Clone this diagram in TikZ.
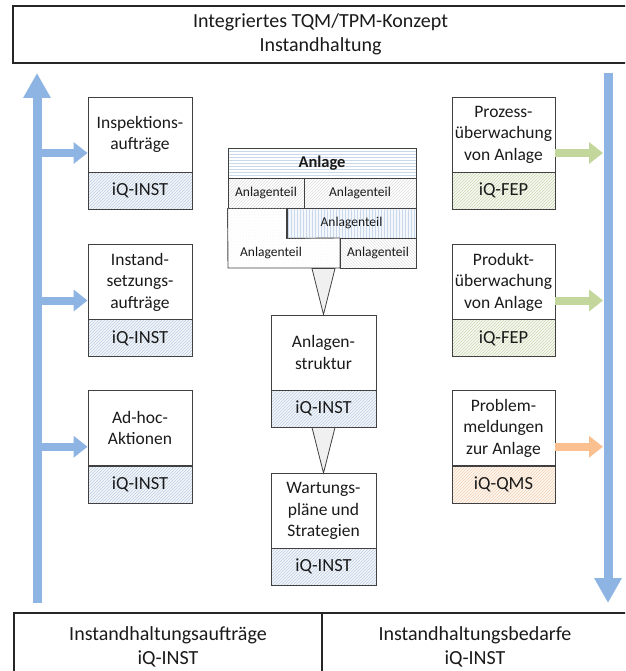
\documentclass[tikz,border=0pt]{standalone}
\usepackage{fontspec}
\setmainfont{Carlito}
\usetikzlibrary{patterns,arrows.meta,calc}
\definecolor{arrblue}{HTML}{8EB4E3}
\definecolor{arrgreen}{HTML}{C3D69B}
\definecolor{arrorange}{HTML}{FAC08F}
\definecolor{bordergray}{HTML}{404040}
\definecolor{txt}{HTML}{1A1A1A}
\definecolor{hbluebg}{HTML}{F4F7FB}
\definecolor{hblue}{HTML}{BCCDE2}
\definecolor{hgreenbg}{HTML}{F7F9F1}
\definecolor{hgreen}{HTML}{CCD7B4}
\definecolor{horangebg}{HTML}{FEF6EF}
\definecolor{horange}{HTML}{F2D3B8}
\definecolor{hlineblue}{HTML}{C9D8EA}
\definecolor{tri}{HTML}{F0F0F0}
\newcommand\ftitle{\fontsize{20}{24}\selectfont}
\newcommand\fboxtxt{\fontsize{17.5}{21.5}\selectfont}
\newcommand\fiq{\fontsize{18.5}{21}\selectfont}
\newcommand\fpart{\fontsize{13.5}{16}\selectfont}
\tikzset{
  box/.style={draw=bordergray, line width=0.9pt, align=center, inner sep=0pt, text=txt},
  upper/.style={box, fill=white, minimum width=#1, minimum height=75pt, font=\fboxtxt},
  lower/.style={box, minimum width=#1, minimum height=37pt, font=\fiq},
  lowblue/.style={lower=#1, preaction={fill=hbluebg}, pattern=north east lines, pattern color=hblue},
  lowgreen/.style={lower=#1, preaction={fill=hgreenbg}, pattern=north east lines, pattern color=hgreen},
  loworange/.style={lower=#1, preaction={fill=horangebg}, pattern=north east lines, pattern color=horange},
  framebox/.style={draw=black!85, line width=1.4pt, align=center, inner sep=0pt, text=txt, font=\ftitle, fill=white},
  cell/.style={box, minimum height=30pt, font=\fpart},
  bigarrow/.style={draw=arrblue, line width=9pt, -{Triangle[width=26pt,length=25pt]}},
  smallarrow/.style={line width=8pt, -{Triangle[width=21pt,length=14pt]}},
  funnel/.style={draw=bordergray, line width=0.8pt, fill=tri},
}
\begin{document}
\begin{tikzpicture}[x=1pt,y=-1pt]
\useasboundingbox (0,0) rectangle (625,671);
\clip (0,0) rectangle (625,671);
\fill[white] (0,0) rectangle (625,671);

% top and bottom frames
\node[framebox, minimum width=615pt, minimum height=57pt] (top) at (320.5,34.5) {Integriertes TQM/TPM-Konzept\\Instandhaltung};
\node[framebox, minimum width=308pt, minimum height=67pt] (bl) at (168,646.5) {Instandhaltungsaufträge\\iQ-INST};
\node[framebox, minimum width=306pt, minimum height=67pt] (br) at (475,646.5) {Instandhaltungsbedarfe\\iQ-INST};

% left boxes
\node[upper=104pt] (iu1) at (140,134.5) {Inspektions-\\aufträge};
\node[lowblue=104pt] (il1) at (140,190.5) {iQ-INST};
\node[upper=104pt] (iu2) at (140,282) {Instand-\\setzungs-\\aufträge};
\node[lowblue=104pt] (il2) at (140,338) {iQ-INST};
\node[upper=104pt] (iu3) at (140,428) {Ad-hoc-\\Aktionen};
\node[lowblue=104pt] (il3) at (140,484.5) {iQ-INST};

% right boxes
\node[upper=103pt] (pu1) at (503.5,134.5) {Prozess-\\überwachung\\von Anlage};
\node[lowgreen=103pt] (pl1) at (503.5,190.5) {iQ-FEP};
\node[upper=103pt] (pu2) at (503.5,282) {Produkt-\\überwachung\\von Anlage};
\node[lowgreen=103pt] (pl2) at (503.5,338) {iQ-FEP};
\node[upper=103pt] (pu3) at (503.5,428) {Problem-\\meldungen\\zur Anlage};
\node[loworange=103pt] (pl3) at (503.5,484.5) {iQ-QMS};

% Anlage block
\node[cell, minimum width=188pt, preaction={fill=white}, pattern=horizontal lines, pattern color=hlineblue, font=\fontsize{16.5}{18}\selectfont\bfseries] (an) at (322,163) {Anlage};
\node[cell, minimum width=76pt, preaction={fill=white}, pattern=north east lines, pattern color=gray!25] (c1) at (266,193) {Anlagenteil};
\node[cell, minimum width=112pt, preaction={fill=white}, pattern=north east lines, pattern color=gray!25] (c2) at (360,193) {Anlagenteil};
\node[cell, minimum width=129pt, preaction={fill=hbluebg}, pattern=vertical lines, pattern color=hlineblue] (c3) at (351.5,223) {Anlagenteil};
\filldraw[draw=bordergray, line width=0.9pt, fill=white] (c1.south west) -- (c3.south west |- c1.south) -- (c3.south west) -- (340,238) -- (340,268) -- (228,268) -- cycle;
\path[pattern=dots, pattern color=gray!12] (c1.south west) -- (c3.south west |- c1.south) -- (c3.south west) -- (340,238) -- (340,268) -- (228,268) -- cycle;
\node[font=\fpart, text=txt, inner sep=0pt] (c4) at (271,253) {Anlagenteil};
\node[cell, minimum width=76pt, preaction={fill=white}, pattern=north west lines, pattern color=gray!22] (c5) at (378,253) {Anlagenteil};

% center boxes
\node[upper=105pt] (au) at (323.5,352.5) {Anlagen-\\struktur};
\node[lowblue=105pt] (al) at (323.5,408.5) {iQ-INST};
\node[upper=105pt] (wu) at (323.5,511) {Wartungs-\\pläne und\\Strategien};
\node[lowblue=105pt] (wl) at (323.5,566.5) {iQ-INST};

% funnels
\draw[funnel] ($(au.north |- c5.south)+(-11.5,0)$) -- ($(au.north |- c5.south)+(11.5,0)$) -- (au.north) -- cycle;
\draw[funnel] ($(al.south)+(-11.5,0)$) -- ($(al.south)+(11.5,0)$) -- (wu.north) -- cycle;

% blue bars
\coordinate (lb) at (37,603);
\coordinate (lt) at (37,73);
\coordinate (rt) at (608,73);
\coordinate (rb) at (608,603);
\draw[bigarrow] (lb) -- (lt);
\draw[bigarrow] (rt) -- (rb);

% left arrows
\foreach \u/\l in {iu1/il1,iu2/il2,iu3/il3}{
  \coordinate (\u w) at ($(\u.north west)!.5!(\l.south west)$);
  \draw[smallarrow, draw=arrblue] (lb |- \u w) -- (\u w);
}
% right arrows
\foreach \u/\l/\c in {pu1/pl1/arrgreen,pu2/pl2/arrgreen,pu3/pl3/arrorange}{
  \coordinate (\u e) at ($(\u.north east)!.5!(\l.south east)$);
  \draw[smallarrow, draw=\c] (\u e) -- ($(rt |- \u e)+(-5,0)$);
}
\end{tikzpicture}
\end{document}
